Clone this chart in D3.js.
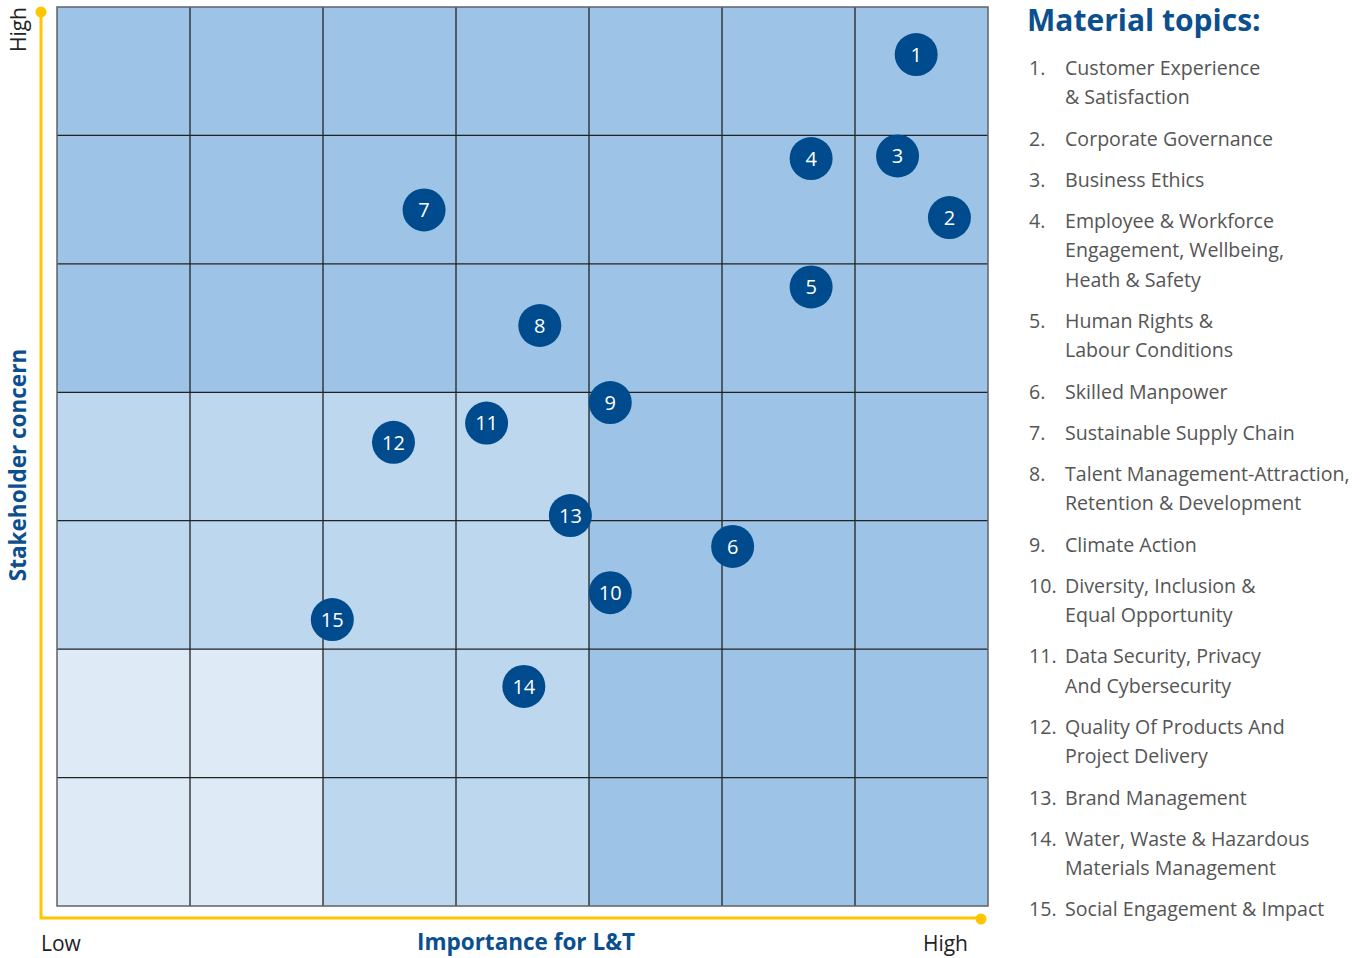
<!DOCTYPE html>
<html>
<head>
<meta charset="utf-8">
<script src="https://cdn.jsdelivr.net/npm/d3@7"></script>
<style>
  body { margin: 0; background: #fff; }
  text { font-family: "Open Sans", "Noto Sans", sans-serif; }
</style>
</head>
<body>
<div id="chart"></div>
<script>
// grid shading levels per row (top row first), per column (low -> high)
var shadeRows = [
    [2, 2, 2, 2, 2, 2, 2],
    [2, 2, 2, 2, 2, 2, 2],
    [2, 2, 2, 2, 2, 2, 2],
    [1, 1, 1, 1, 2, 2, 2],
    [1, 1, 1, 1, 2, 2, 2],
    [0, 0, 1, 1, 2, 2, 2],
    [0, 0, 1, 1, 2, 2, 2]
];
var shadeColors = ["#deebf7", "#bdd7ee", "#9dc3e6"];

// topic ids, importance for L&T (x) and stakeholder concern (y), 0..7 grid units
var topicIds   = [1, 2, 3, 4, 5, 6, 7, 8, 9, 10, 11, 12, 13, 14, 15];
var importance = [6.46, 6.71, 6.32, 5.67, 5.67, 5.08, 2.76, 3.63, 4.16, 4.16, 3.23, 2.53, 3.86, 3.51, 2.07];
var concern    = [6.63, 5.36, 5.84, 5.82, 4.82, 2.80, 5.42, 4.52, 3.92, 2.44, 3.76, 3.61, 3.04, 1.71, 2.23];

var topicNames = [
    ["Customer Experience", "& Satisfaction"],
    ["Corporate Governance"],
    ["Business Ethics"],
    ["Employee & Workforce", "Engagement, Wellbeing,", "Heath & Safety"],
    ["Human Rights &", "Labour Conditions"],
    ["Skilled Manpower"],
    ["Sustainable Supply Chain"],
    ["Talent Management-Attraction,", "Retention & Development"],
    ["Climate Action"],
    ["Diversity, Inclusion &", "Equal Opportunity"],
    ["Data Security, Privacy", "And Cybersecurity"],
    ["Quality Of Products And", "Project Delivery"],
    ["Brand Management"],
    ["Water, Waste & Hazardous", "Materials Management"],
    ["Social Engagement & Impact"]
];

var width = 1366, height = 958;
var grid = { left: 57, right: 988, top: 7, bottom: 906 };
var n = 7;

var svg = d3.select("#chart").append("svg")
    .attr("width", width)
    .attr("height", height);

var x = d3.scaleLinear().domain([0, n]).range([grid.left, grid.right]);
var y = d3.scaleLinear().domain([0, n]).range([grid.bottom, grid.top]);

// cells
var cells = [];
shadeRows.forEach(function(row, r) {
    row.forEach(function(s, c) {
        cells.push({ col: c, row: n - 1 - r, shade: s });
    });
});

svg.append("g").selectAll("rect")
    .data(cells)
    .enter().append("rect")
    .attr("x", d => x(d.col))
    .attr("y", d => y(d.row + 1))
    .attr("width", d => x(d.col + 1) - x(d.col))
    .attr("height", d => y(d.row) - y(d.row + 1))
    .attr("fill", d => shadeColors[d.shade]);

// inner grid lines
var g = svg.append("g").attr("stroke", "#222").attr("stroke-width", 1.3);
d3.range(1, n).forEach(function(i) {
    g.append("line").attr("x1", x(i)).attr("x2", x(i)).attr("y1", y(0)).attr("y2", y(n));
    g.append("line").attr("y1", y(i)).attr("y2", y(i)).attr("x1", x(0)).attr("x2", x(n));
});
svg.append("rect")
    .attr("x", x(0)).attr("y", y(n))
    .attr("width", x(n) - x(0)).attr("height", y(0) - y(n))
    .attr("fill", "none").attr("stroke", "#5f6266").attr("stroke-width", 1.5);

// yellow axes
var axisColor = "#ffc600";
svg.append("path")
    .attr("d", "M41,12 L41,918 L981,918")
    .attr("fill", "none")
    .attr("stroke", axisColor)
    .attr("stroke-width", 3);
svg.append("circle").attr("cx", 41).attr("cy", 12).attr("r", 5.5).attr("fill", axisColor);
svg.append("circle").attr("cx", 981).attr("cy", 919).attr("r", 5.5).attr("fill", axisColor);

// axis labels
svg.append("text").attr("x", 41).attr("y", 951)
    .attr("font-size", 21).attr("fill", "#222").text("Low");
svg.append("text").attr("x", 968).attr("y", 951).attr("text-anchor", "end")
    .attr("font-size", 21).attr("fill", "#222").text("High");
svg.append("text").attr("x", 526).attr("y", 950).attr("text-anchor", "middle")
    .attr("font-size", 22.5).attr("font-weight", "bold").attr("fill", "#0b4f8f")
    .text("Importance for L&T");
svg.append("text").attr("transform", "translate(26,7) rotate(-90)")
    .attr("text-anchor", "end")
    .attr("font-size", 21).attr("fill", "#222").text("High");
svg.append("text").attr("transform", "translate(26,465) rotate(-90)")
    .attr("text-anchor", "middle")
    .attr("font-size", 22.5).attr("font-weight", "bold").attr("fill", "#0b4f8f")
    .text("Stakeholder concern");

// topic markers
var topics = topicIds.map((id, i) => ({ id: id, x: importance[i], y: concern[i] }));
var marks = svg.append("g").selectAll("g")
    .data(topics)
    .enter().append("g")
    .attr("transform", d => "translate(" + x(d.x) + "," + y(d.y) + ")");
marks.append("circle").attr("r", 21.5).attr("fill", "#004b8d");
marks.append("text")
    .attr("text-anchor", "middle")
    .attr("dy", "0.36em")
    .attr("font-size", 20)
    .attr("fill", "#fff")
    .text(d => d.id);

// legend
var legend = svg.append("g");
legend.append("text").attr("x", 1027).attr("y", 31)
    .attr("font-size", 30).attr("font-weight", "bold").attr("fill", "#0b4f8f")
    .text("Material topics:");

var lineH = 29.4, itemGap = 41.2, yy = 75;
topicNames.forEach(function(lines, i) {
    legend.append("text").attr("x", 1029).attr("y", yy)
        .attr("font-size", 19.6).attr("fill", "#555")
        .text((i + 1) + ".");
    lines.forEach(function(l, j) {
        legend.append("text").attr("x", 1065).attr("y", yy + j * lineH)
            .attr("font-size", 19.6).attr("fill", "#555")
            .text(l);
    });
    yy += (lines.length - 1) * lineH + itemGap;
});
</script>
</body>
</html>
